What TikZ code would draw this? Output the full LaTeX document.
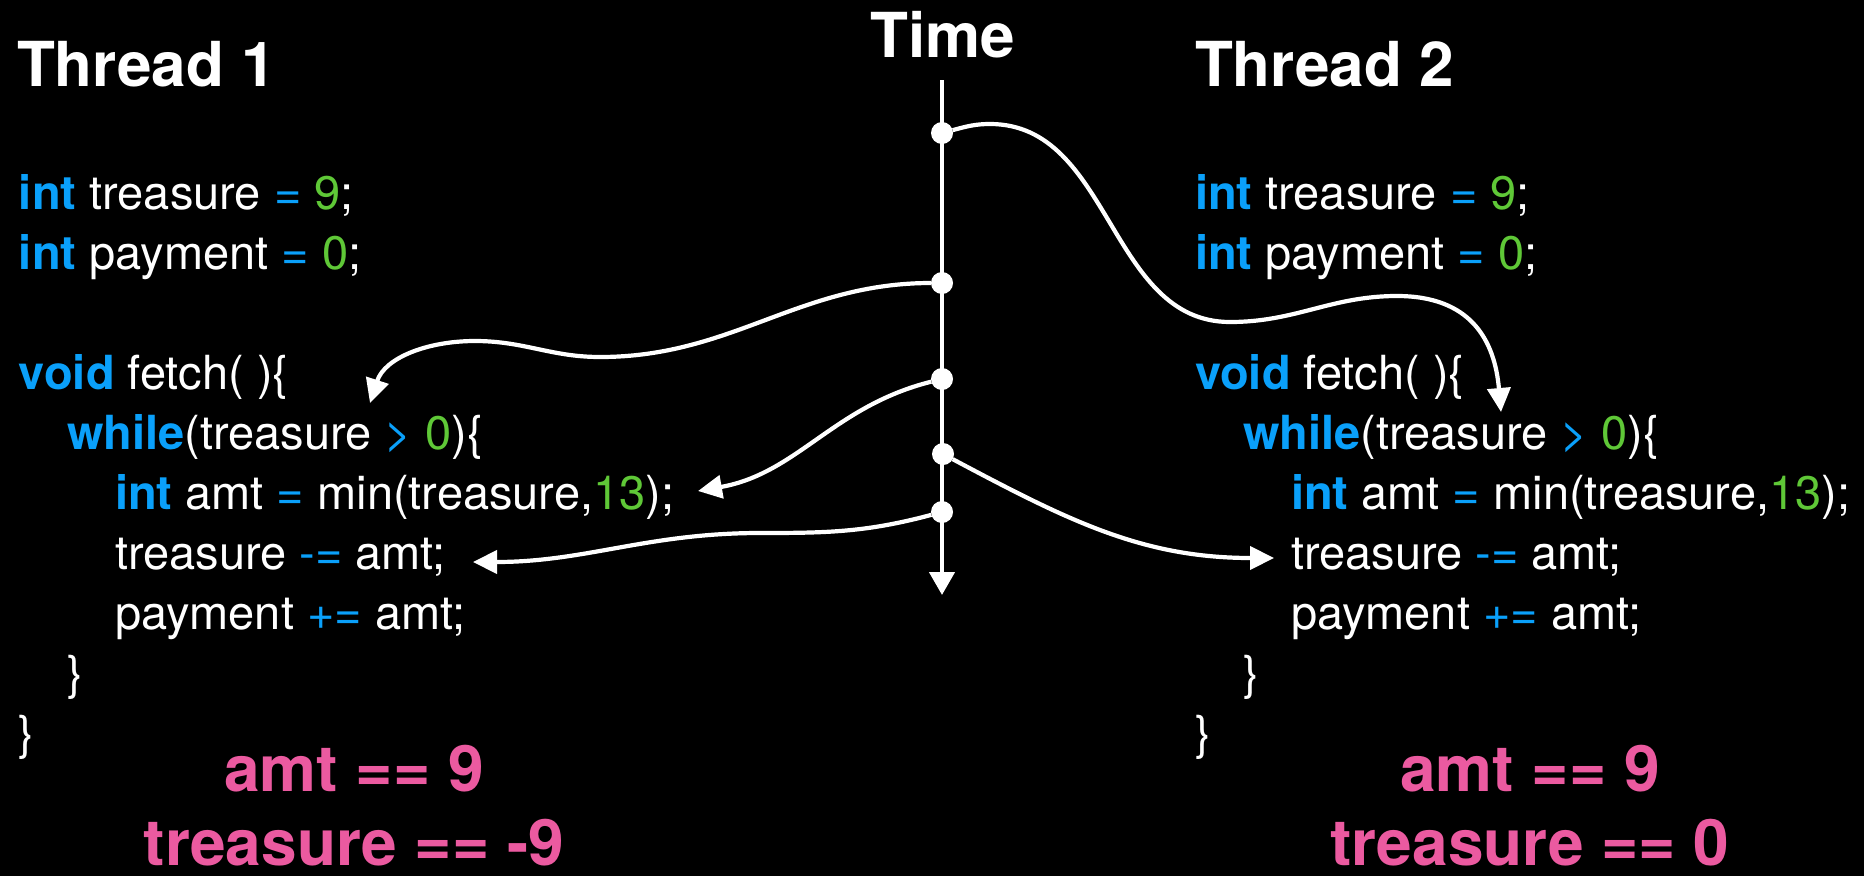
\documentclass[tikz,border=0pt]{standalone}
\usepackage{fontspec}
\setmainfont{TeX Gyre Heros}
\usetikzlibrary{arrows.meta}

\definecolor{keyblue}{RGB}{10,160,250}
\definecolor{numgreen}{RGB}{95,200,55}
\definecolor{resultpink}{RGB}{235,90,160}

% syntax colouring helpers
\newcommand{\kwd}[1]{{\bfseries\color{keyblue}#1}}
\newcommand{\opr}[1]{{\color{keyblue}#1}}
\newcommand{\cnum}[1]{{\color{numgreen}#1}}

\begin{document}
\begin{tikzpicture}[x=1pt,y=1pt,
  code/.style={anchor=base west, inner sep=0pt, outer sep=0pt,
    font=\fontsize{47}{56}\selectfont, text=white},
  title/.style={anchor=base west, inner sep=0pt, outer sep=0pt,
    font=\fontsize{62}{70}\selectfont\bfseries, text=white},
  result/.style={anchor=base, inner sep=0pt, outer sep=0pt,
    font=\fontsize{64}{72}\selectfont\bfseries, text=resultpink},
  event/.style={circle, fill=white, minimum size=22pt, inner sep=0pt, outer sep=0pt},
  timeline/.style={white, line width=4.4pt, -{Triangle[length=23pt,width=25pt]}},
  flow/.style={white, line width=4.2pt, -{Triangle[length=24pt,width=23pt]}}]

\fill[black] (0,0) rectangle (1864,-876);
\useasboundingbox (0,0) rectangle (1864,-876);

% headings
\node[title] (th1) at (17,-86) {Thread 1};
\node[title] (th2) at (1195,-86) {Thread 2};
\node[title, anchor=base] (time) at (943,-57) {Time};

% thread 1 source
\node[code] (l1) at (19,-209)  {\kwd{int} treasure \opr{=} \cnum{9};};
\node[code] (l2) at (19,-269)  {\kwd{int} payment \opr{=} \cnum{0};};
\node[code] (l3) at (19,-389)  {\kwd{void} fetch( )\{};
\node[code] (l4) at (67,-449)  {\kwd{while}(treasure \opr{>} \cnum{0})\{};
\node[code] (l5) at (115,-509) {\kwd{int} amt \opr{=} min(treasure,\cnum{13});};
\node[code] (l6) at (115,-569) {treasure \opr{-=} amt;};
\node[code] (l7) at (115,-629) {payment \opr{+=} amt;};
\node[code] (l8) at (67,-689)  {\}};
\node[code] (l9) at (19,-749)  {\}};

% thread 2 source
\node[code] (r1) at (1195,-209) {\kwd{int} treasure \opr{=} \cnum{9};};
\node[code] (r2) at (1195,-269) {\kwd{int} payment \opr{=} \cnum{0};};
\node[code] (r3) at (1195,-389) {\kwd{void} fetch( )\{};
\node[code] (r4) at (1243,-449) {\kwd{while}(treasure \opr{>} \cnum{0})\{};
\node[code] (r5) at (1291,-509) {\kwd{int} amt \opr{=} min(treasure,\cnum{13});};
\node[code] (r6) at (1291,-569) {treasure \opr{-=} amt;};
\node[code] (r7) at (1291,-629) {payment \opr{+=} amt;};
\node[code] (r8) at (1243,-689) {\}};
\node[code] (r9) at (1195,-749) {\}};

% outcomes
\node[result] (o1a) at (354,-791)  {amt == 9};
\node[result] (o1b) at (354,-865)  {treasure == -9};
\node[result] (o2a) at (1530,-791) {amt == 9};
\node[result] (o2b) at (1530,-865) {treasure == 0};

% time axis with its events
\coordinate (ttop) at (942,-80);
\coordinate (tend) at (942,-595);
\draw[timeline] (ttop) -- (tend);
\node[event] (e1) at (942,-133) {};
\node[event] (e2) at (942,-283) {};
\node[event] (e3) at (942,-379) {};
\node[event] (e4) at (943,-454) {};
\node[event] (e5) at (942,-512) {};

% arrow targets
\coordinate (a1) at (1501,-412);
\coordinate (a2) at (370,-403);
\coordinate (a3) at (698,-491);
\coordinate (a4) at (1274,-558);
\coordinate (a5) at (473,-562);

% interleaving of the two threads
\draw[flow] (e1) to[out=15,in=180] (990,-124) to[out=0,in=180] (1230,-322)
  to[out=0,in=180] (1397,-296) to[out=0,in=95,looseness=1.2] (a1);
\draw[flow] (e2) to[out=180,in=0] (600,-357) to[out=180,in=0] (475,-341)
  to[out=180,in=72] (a2);
\draw[flow] (e3) to[out=194,in=10] (a3);
\draw[flow] (e4) to[out=-28,in=180] (a4);
\draw[flow] (e5) to[out=195,in=0] (760,-533) to[out=180,in=0] (a5);
\end{tikzpicture}
\end{document}
